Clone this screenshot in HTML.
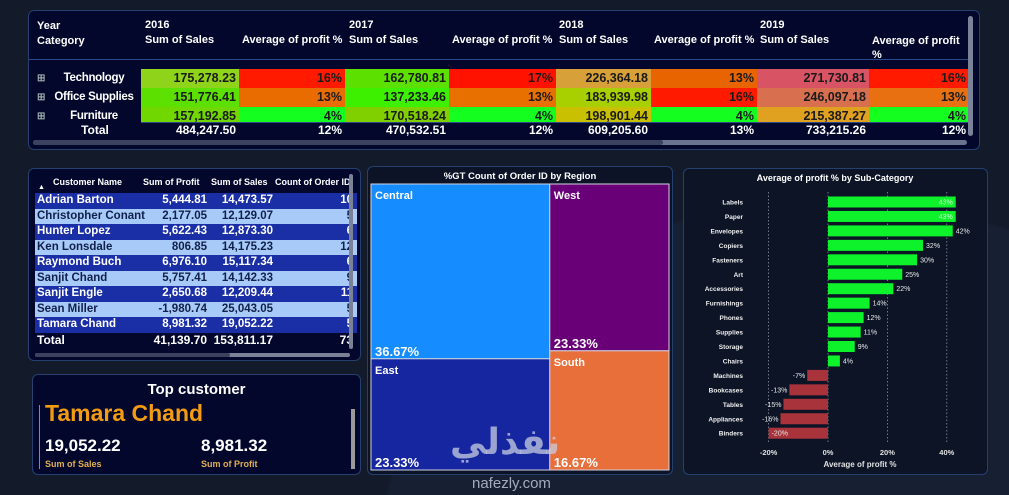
<!DOCTYPE html>
<html><head><meta charset="utf-8"><style>
*{box-sizing:border-box;margin:0;padding:0}
html,body{width:1009px;height:495px;overflow:hidden}
body{background:#131b2b;font-family:"Liberation Sans",sans-serif;color:#fff}
#root{position:relative;width:1009px;height:495px;overflow:hidden;background:radial-gradient(ellipse 450px 350px at 830px 550px,#172033 99%,#131b2b 100%)}
.abs{position:absolute}
.panel{position:absolute;background:#03072c;border:1px solid #25406e;border-radius:6px}
.c{position:absolute;font-weight:bold;font-size:12.5px;color:#1a1a1a;text-align:right;padding-right:3px;line-height:19px;overflow:hidden}
.h{position:absolute;font-size:11px;font-weight:bold;color:#fff}
.tr{position:absolute;left:6px;width:322px;height:15.5px;font-size:11.5px;font-weight:bold;line-height:15.5px}
.tr span{position:absolute;top:0}
</style></head><body><div id="root">

<div class="panel" style="left:28px;top:10px;width:952px;height:140px;overflow:hidden">
 <div class="h" style="left:8px;top:8px;line-height:15px">Year<br>Category</div>
 <div class="h" style="left:116px;top:8px">2016</div><div class="h" style="left:116px;top:23px">Sum of Sales</div><div class="h" style="left:213px;top:23px">Average of profit %</div>
 <div class="h" style="left:320px;top:8px">2017</div><div class="h" style="left:320px;top:23px">Sum of Sales</div><div class="h" style="left:423px;top:23px">Average of profit %</div>
 <div class="h" style="left:530px;top:8px">2018</div><div class="h" style="left:530px;top:23px">Sum of Sales</div><div class="h" style="left:625px;top:23px">Average of profit %</div>
 <div class="h" style="left:731px;top:8px">2019</div><div class="h" style="left:731px;top:23px">Sum of Sales</div><div class="h" style="left:843px;top:23px;line-height:14px">Average of profit<br>%</div>
 <div class="abs" style="left:0;top:48px;width:940px;height:1px;background:#2a4a8a"></div>
 <div id="mx"></div>
 <div class="abs" style="left:4px;top:129px;width:934px;height:5px;border-radius:3px;background:#6a7390"></div>
 <div class="abs" style="left:4px;top:129px;width:630px;height:5px;border-radius:3px;background:#3a4260"></div>
 <div class="abs" style="left:939px;top:5px;width:5px;height:120px;border-radius:3px;background:#7a8298"></div>
</div>

<div class="panel" style="left:28px;top:168px;width:333px;height:193px;overflow:hidden">
 <div class="abs" style="left:24px;top:8px;font-size:9px;font-weight:bold">Customer Name</div>
 <div class="abs" style="left:114px;top:8px;font-size:9px;font-weight:bold">Sum of Profit</div>
 <div class="abs" style="left:182px;top:8px;font-size:9px;font-weight:bold">Sum of Sales</div>
 <div class="abs" style="left:246px;top:8px;font-size:9px;font-weight:bold;white-space:nowrap">Count of Order ID</div>
 <div class="abs" style="left:9px;top:15px;font-size:7px">▲</div>
 <div id="ct"></div>
 <div class="abs" style="left:6px;top:184px;width:315px;height:4px;border-radius:2px;background:#7a8298"></div>
 <div class="abs" style="left:6px;top:184px;width:195px;height:4px;border-radius:2px;background:#3a4260"></div>
 <div class="abs" style="left:320px;top:5px;width:4px;height:175px;border-radius:2px;background:#7a8298"></div>
</div>

<div class="panel" style="left:32px;top:374px;width:329px;height:101px">
 <div class="abs" style="left:0;width:100%;top:6px;text-align:center;font-size:15px;font-weight:bold">Top customer</div>
 <div class="abs" style="left:6px;top:30px;width:1px;height:64px;background:#8a8a8a"></div>
 <div class="abs" style="left:12px;top:25px;font-size:23px;font-weight:bold;color:#f39c12">Tamara Chand</div>
 <div class="abs" style="left:12px;top:61px;font-size:17px;font-weight:bold">19,052.22</div>
 <div class="abs" style="left:12px;top:84px;font-size:9px;font-weight:bold;color:#e0b050">Sum of Sales</div>
 <div class="abs" style="left:168px;top:61px;font-size:17px;font-weight:bold">8,981.32</div>
 <div class="abs" style="left:168px;top:84px;font-size:9px;font-weight:bold;color:#e0b050">Sum of Profit</div>
 <div class="abs" style="left:318px;top:34px;width:4px;height:60px;background:#9a9a9a"></div>
</div>

<div class="panel" style="left:367px;top:166px;width:306px;height:309px;background:#0c1326">
 <div class="abs" style="left:0;width:100%;top:4px;text-align:center;font-size:9.5px;font-weight:bold">%GT Count of Order ID by Region</div>
</div>
<svg id="tm" class="abs" style="left:0;top:0" width="1009" height="495"></svg>

<div class="panel" style="left:683px;top:168px;width:305px;height:307px;background:#0c1426"></div>
<svg id="bc" class="abs" style="left:0;top:0" width="1009" height="495" font-family="Liberation Sans, sans-serif"></svg>

<div class="abs" style="left:450px;top:420px;font-size:36px;line-height:44px;font-weight:bold;color:rgba(200,205,225,0.75);font-family:'Liberation Sans','DejaVu Sans',sans-serif">نفذلي</div>
<div class="abs" style="left:472px;top:475px;font-size:15px;line-height:17px;color:rgba(200,205,225,0.8)">nafezly.com</div>
</div>
<script>
const mxCats=["Technology","Office Supplies","Furniture"];
const mxVals=[["175,278.23","16%","162,780.81","17%","226,364.18","13%","271,730.81","16%"],
["151,776.41","13%","137,233.46","13%","183,939.98","16%","246,097.18","13%"],
["157,192.85","4%","170,518.24","4%","198,901.44","4%","215,387.27","4%"]];
const mxColors=[["#8fd41a","#ff1a00","#5ce000","#ff1200","#d8a038","#e86400","#d85464","#ff1a00"],
["#5ce000","#e86c00","#3df000","#e87000","#a8d000","#ff1a00","#d87050","#e87010"],
["#70d800","#14ff20","#80d000","#14ff20","#c8c000","#14ff20","#e0a020","#14ff20"]];
const mxTotals=["484,247.50","12%","470,532.51","12%","609,205.60","13%","733,215.26","12%"];
const colX=[112,210,316,420,527,622,728,840,940];
const mx=document.getElementById('mx');
const rowY=[58,77,96];
mxCats.forEach((c,i)=>{
 const l=document.createElement('div');
 
 
 l.className='abs';l.style.cssText=`left:8px;top:${rowY[i]}px;width:104px;font-size:11.5px;font-weight:bold;line-height:19px;white-space:nowrap`;
 l.innerHTML='<span style="color:#9aa;font-size:10px;display:inline-block;width:12px">⊞</span><span style="display:inline-block;width:90px;text-align:center;letter-spacing:-0.3px">'+c+'</span>';
 mx.appendChild(l);
 mxVals[i].forEach((v,j)=>{
  const d=document.createElement('div');
  
  
  d.className='c';
  const h=i==2?15:19;
  d.style.cssText=`left:${colX[j]}px;top:${rowY[i]}px;width:${colX[j+1]-colX[j]}px;height:${h}px;background:${mxColors[i][j]}`;
  d.textContent=v;mx.appendChild(d);
 });
});
const tl=document.createElement('div');


tl.className='abs';tl.style.cssText='left:20px;top:112px;width:92px;text-align:center;font-size:12px;font-weight:bold';tl.textContent='Total';mx.appendChild(tl);
mxTotals.forEach((v,j)=>{
 const d=document.createElement('div');
 
 
 d.className='c';d.style.cssText=`left:${colX[j]}px;top:111px;width:${colX[j+1]-colX[j]}px;height:16px;line-height:16px;color:#fff;font-size:12px`;
 d.textContent=v;mx.appendChild(d);
});
const ln=document.createElement('div');ln.className='abs';ln.style.cssText='left:112px;top:111px;width:828px;height:1px;background:#2a4a8a';mx.appendChild(ln);

const custNames=["Adrian Barton","Christopher Conant","Hunter Lopez","Ken Lonsdale","Raymond Buch","Sanjit Chand","Sanjit Engle","Sean Miller","Tamara Chand"];
const custProfit=["5,444.81","2,177.05","5,622.43","806.85","6,976.10","5,757.41","2,650.68","-1,980.74","8,981.32"];
const custSales=["14,473.57","12,129.07","12,873.30","14,175.23","15,117.34","14,142.33","12,209.44","25,043.05","19,052.22"];
const custCount=["10","5","6","12","6","9","11","5","5"];
const ct=document.getElementById('ct');
custNames.forEach((n,i)=>{
 const r=document.createElement('div');
 
 
 r.className='tr';
 const dark=i%2==0;
 r.style.top=(24+i*15.5)+'px';
 r.style.background=dark?'#1a2fa6':'#a8caf8';
 r.style.color=dark?'#fff':'#10204a';
 r.innerHTML=`<span style="left:2px">${n}</span><span style="right:150px">${custProfit[i]}</span><span style="right:84px">${custSales[i]}</span><span style="right:4px">${custCount[i]}</span>`;
 ct.appendChild(r);
});
const tot=document.createElement('div');


tot.className='tr';tot.style.top='164px';tot.style.fontSize='12px';
tot.innerHTML='<span style="left:2px">Total</span><span style="right:150px">41,139.70</span><span style="right:84px">153,811.17</span><span style="right:4px">73</span>';
ct.appendChild(tot);

const regions=["Central","East","West","South"];
const regionPct=[36.67,23.33,23.33,16.67];
const regionColors=["#158cff","#1526a0","#6a0078","#e86e3a"];
const NS="http://www.w3.org/2000/svg";
const tm=document.getElementById('tm');
const TX=371,TY=184,TW=298,TH=286;
const total=regionPct.reduce((a,b)=>a+b,0);
const c1=regionPct[0]+regionPct[1], c2=regionPct[2]+regionPct[3];
const w1=TW*c1/total;
const rects=[
 [TX,TY,w1,TH*regionPct[0]/c1],
 [TX,TY+TH*regionPct[0]/c1,w1,TH*regionPct[1]/c1],
 [TX+w1,TY,TW-w1,TH*regionPct[2]/c2],
 [TX+w1,TY+TH*regionPct[2]/c2,TW-w1,TH*regionPct[3]/c2]];
rects.forEach((r,i)=>{
 const re=document.createElementNS(NS,'rect');
 
 
 re.setAttribute('x',r[0]);re.setAttribute('y',r[1]);re.setAttribute('width',r[2]);re.setAttribute('height',r[3]);
 re.setAttribute('fill',regionColors[i]);re.setAttribute('stroke','#d0d4e0');re.setAttribute('stroke-width','1');
 tm.appendChild(re);
 const t1=document.createElementNS(NS,'text');
 
 
 t1.setAttribute('x',r[0]+4);t1.setAttribute('y',r[1]+15);t1.setAttribute('fill','#fff');t1.setAttribute('font-size','11');t1.setAttribute('font-weight','bold');t1.setAttribute('font-family','Liberation Sans, sans-serif');
 t1.textContent=regions[i];tm.appendChild(t1);
 const t2=document.createElementNS(NS,'text');
 
 
 t2.setAttribute('x',r[0]+4);t2.setAttribute('y',r[1]+r[3]-3);t2.setAttribute('fill','#fff');t2.setAttribute('font-size','13');t2.setAttribute('font-weight','bold');t2.setAttribute('font-family','Liberation Sans, sans-serif');
 t2.textContent=regionPct[i].toFixed(2)+'%';tm.appendChild(t2);
});

const subCats=["Labels","Paper","Envelopes","Copiers","Fasteners","Art","Accessories","Furnishings","Phones","Supplies","Storage","Chairs","Machines","Bookcases","Tables","Appliances","Binders"];
const profitPct=[43,43,42,32,30,25,22,14,12,11,9,4,-7,-13,-15,-16,-20];
const xTicks=[-20,0,20,40];
const bc=document.getElementById('bc');
const xS=v=>828+v*2.97;
const yS=i=>202+i*14.45;
const bh=11;
function txt(x,y,s,sz,anchor,fill,nm,bold){
 const t=document.createElementNS(NS,'text');
 
 
 t.setAttribute('x',x);t.setAttribute('y',y);t.setAttribute('font-size',sz);t.setAttribute('text-anchor',anchor);t.setAttribute('fill',fill);
 if(bold)t.setAttribute('font-weight','bold');
 t.textContent=s;bc.appendChild(t);
}
txt(835,181,'Average of profit % by Sub-Category',9,'middle','#fff','chart-title',true);
xTicks.forEach(v=>{
 const l=document.createElementNS(NS,'line');
 
 
 l.setAttribute('x1',xS(v));l.setAttribute('x2',xS(v));l.setAttribute('y1',192);l.setAttribute('y2',444);
 l.setAttribute('stroke','#8a90a0');l.setAttribute('stroke-dasharray','1.5,2');l.setAttribute('stroke-width','0.8');
 bc.appendChild(l);
 txt(xS(v),455,v+'%',7.5,'middle','#e0e0e0','x-tick-label',true);
});
txt(860,467,'Average of profit %',8,'middle','#e0e0e0','x-axis-title',true);
subCats.forEach((c,i)=>{
 const v=profitPct[i];
 const r=document.createElementNS(NS,'rect');
 
 
 const x0=Math.min(xS(0),xS(v));
 r.setAttribute('x',x0);r.setAttribute('y',yS(i)-bh/2);r.setAttribute('width',Math.abs(xS(v)-xS(0)));r.setAttribute('height',bh);
 r.setAttribute('fill',v>=0?'#0df22a':'#a8333a');
 bc.appendChild(r);
 txt(743,yS(i)+2.5,c,6.5,'end','#f0f0f0','y-tick-label',true);
 const inside=Math.abs(v)>=43||v<=-20;
 let lx,anc;
 if(v>=0){lx=inside?xS(v)-3:xS(v)+3;anc=inside?'end':'start';}
 else{lx=inside?xS(v)+3:xS(v)-2;anc=inside?'start':'end';}
 txt(lx,yS(i)+2.5,v+'%',7,anc,inside&&v>0?'#d0ffd0':'#e8e8e8','bar-value-label',false);
});
</script>
</body></html>
